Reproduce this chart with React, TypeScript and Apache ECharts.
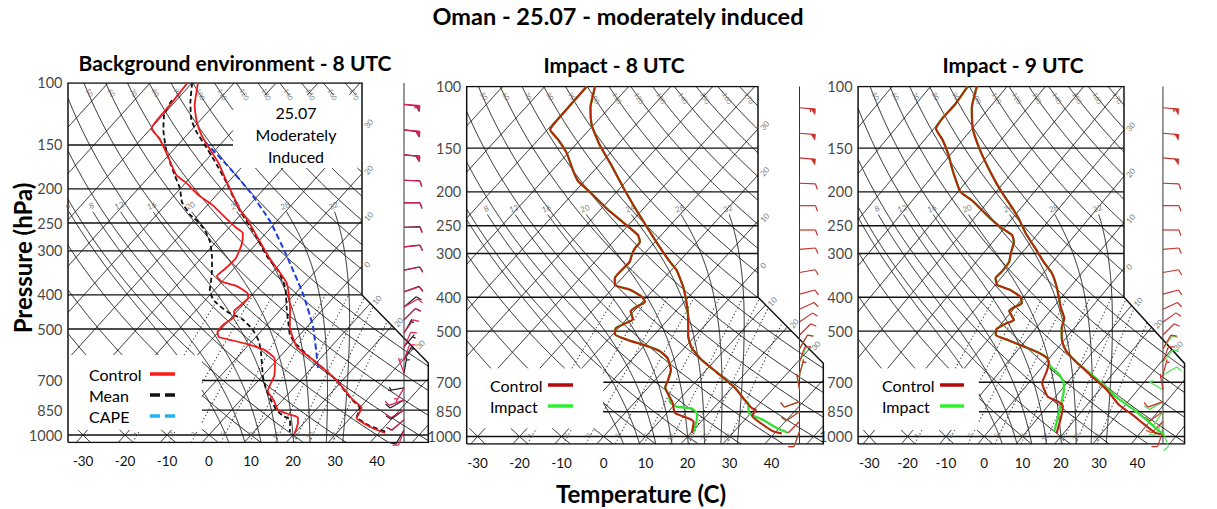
import React, { useEffect, useRef } from "react";
import * as echarts from "echarts";

// ---------------- data ----------------
const pressureTicks = [100, 150, 200, 250, 300, 400, 500, 700, 850, 1000];
const pressureLines = [150, 200, 250, 300, 400, 500, 700, 850, 1000];
const tempTicks = [-30, -20, -10, 0, 10, 20, 30, 40];

// Panel 1 - Background environment - 8 UTC
const envCtlTempP = [100, 116, 129, 141, 152, 168, 191, 209, 228, 248, 271, 316, 370, 441, 493, 562, 612, 698, 795, 838, 895, 947, 987];
const envCtlTemp = [-78.6, -74.5, -70.5, -66.4, -62.3, -56.7, -50.4, -45.9, -41.5, -36.6, -31.8, -23.5, -14.3, -7.7, -4.1, 1.9, 8.6, 18.5, 26.7, 30.5, 31.5, 36.5, 41.5];
const envCtlDewP = [100, 116, 135, 144, 162, 183, 191, 208, 222, 242, 257, 267, 287, 314, 336, 354, 367, 377, 398, 408, 430, 444, 462, 484, 510, 527, 539, 555, 574, 604, 637, 680, 750, 801, 849, 877, 892, 925, 987];
const envCtlDew = [-81.1, -80.5, -79.8, -75.7, -69.8, -63.8, -60.3, -54.4, -48.9, -42.8, -38.5, -35.5, -33.4, -31.8, -32.0, -32.4, -30.0, -25.7, -21.1, -20.3, -20.5, -20.8, -19.5, -20.4, -20.2, -18.8, -14.7, -9.7, -5.0, -1.1, 0.8, 2.8, 4.5, 8.2, 11.0, 15.2, 17.4, 18.6, 20.0];
const envMeanTempP = [100, 114, 127, 138, 150, 166, 192, 230, 270, 314, 340, 382, 436, 487, 520, 548, 601, 689, 795, 838, 889, 943, 981];
const envMeanTemp = [-80.0, -76.1, -72.3, -68.3, -63.6, -58.0, -50.3, -41.2, -32.2, -24.2, -19.2, -13.6, -8.9, -4.8, -2.3, 0.6, 7.2, 17.5, 26.5, 30.1, 31.3, 36.4, 41.7];
const envMeanDewP = [112, 123, 136, 157, 183, 199, 218, 237, 248, 262, 283, 314, 351, 390, 416, 448, 468, 500, 541, 585, 680, 736, 785, 849, 883, 904, 981];
const envMeanDew = [-81.1, -79.8, -76.7, -71.2, -64.2, -60.2, -56.7, -52.0, -48.6, -45.2, -41.4, -37.5, -33.9, -30.9, -27.7, -22.0, -17.2, -12.6, -8.4, -5.3, 0.1, 3.4, 6.5, 10.7, 13.5, 16.0, 18.6];
const envCapeP = [147, 175, 204, 248, 309, 398, 495, 645];
const envCape = [-64.2, -52.5, -42.7, -31.4, -20.3, -8.0, 1.6, 11.5];

// Panel 2 - Impact - 8 UTC
const imp8CtlTempP = [100, 115, 129, 147, 168, 195, 218, 243, 278, 315, 335, 374, 430, 471, 516, 559, 605, 659, 727, 787, 829, 840, 874, 921, 965, 981];
const imp8CtlTemp = [-78.0, -74.5, -70.4, -64.2, -57.0, -49.2, -43.2, -37.2, -29.7, -22.5, -18.7, -13.5, -7.9, -4.7, -1.7, 1.8, 6.8, 13.4, 20.8, 25.7, 29.1, 30.5, 30.9, 35.0, 39.1, 41.8];
const imp8ImpTempP = [100, 115, 129, 147, 168, 195, 218, 243, 278, 315, 335, 374, 430, 471, 516, 559, 605, 659, 727, 787, 805, 857, 897, 946, 974];
const imp8ImpTemp = [-78.0, -74.5, -70.4, -64.2, -57.0, -49.2, -43.2, -37.2, -29.7, -22.5, -18.7, -13.5, -7.9, -4.7, -1.7, 1.8, 6.8, 13.4, 20.8, 25.7, 27.3, 29.5, 34.4, 39.4, 42.8];
const imp8CtlDewP = [100, 119, 133, 142, 155, 175, 187, 200, 223, 243, 254, 266, 278, 290, 303, 317, 331, 353, 369, 381, 399, 412, 427, 438, 462, 477, 490, 510, 530, 551, 570, 597, 646, 690, 724, 766, 797, 857, 887, 909, 979];
const imp8CtlDew = [-80.0, -79.8, -79.3, -75.2, -70.3, -64.7, -61.3, -56.4, -48.8, -42.3, -38.9, -35.5, -33.6, -33.4, -32.7, -31.7, -31.8, -31.7, -30.2, -25.5, -21.2, -19.4, -20.4, -20.8, -18.5, -19.6, -20.6, -19.5, -15.2, -9.4, -5.2, -1.8, 1.6, 3.1, 4.0, 6.8, 8.9, 11.9, 16.2, 18.3, 20.3];
const imp8ImpDewP = [100, 119, 133, 142, 155, 175, 187, 200, 223, 243, 254, 266, 278, 290, 303, 317, 331, 353, 369, 381, 399, 412, 427, 438, 462, 477, 490, 510, 530, 551, 570, 597, 646, 690, 724, 766, 800, 822, 832, 857, 885, 974];
const imp8ImpDew = [-80.0, -79.8, -79.3, -75.2, -70.3, -64.7, -61.3, -56.4, -48.8, -42.3, -38.9, -35.5, -33.6, -33.4, -32.7, -31.7, -31.8, -31.7, -30.2, -25.5, -21.2, -19.4, -20.4, -20.8, -18.5, -19.6, -20.6, -19.5, -15.2, -9.4, -5.2, -1.8, 1.6, 3.1, 4.0, 6.8, 8.5, 10.9, 15.0, 17.1, 18.2, 20.5];

// Panel 3 - Impact - 9 UTC
const imp9CtlTempP = [100, 115, 132, 150, 171, 191, 204, 223, 238, 263, 290, 317, 342, 376, 430, 459, 490, 516, 542, 570, 613, 672, 736, 813, 865, 917, 977, 984];
const imp9CtlTemp = [-77.9, -74.6, -69.8, -63.9, -57.2, -51.2, -47.4, -42.1, -38.4, -33.2, -27.5, -22.4, -17.7, -13.3, -7.8, -4.8, -3.3, -1.6, 0.3, 2.9, 7.9, 14.9, 21.9, 28.4, 33.8, 38.6, 43.9, 45.6];
const imp9ImpTempP = [100, 115, 132, 150, 171, 191, 204, 223, 238, 263, 290, 317, 342, 376, 430, 459, 490, 516, 542, 570, 613, 654, 713, 776, 840, 897, 961, 984];
const imp9ImpTemp = [-77.9, -74.6, -69.8, -63.9, -57.2, -51.2, -47.4, -42.1, -38.4, -33.2, -27.5, -22.4, -17.7, -13.3, -7.8, -4.8, -3.3, -1.6, 0.3, 2.9, 7.9, 13.2, 20.0, 26.4, 33.4, 38.8, 44.2, 46.4];
const imp9CtlDewP = [100, 113, 123, 132, 142, 157, 171, 187, 200, 213, 233, 252, 266, 278, 300, 317, 338, 353, 369, 381, 399, 416, 427, 438, 465, 475, 493, 513, 530, 554, 575, 597, 613, 652, 703, 770, 795, 818, 878, 979];
const imp9CtlDew = [-80.3, -79.7, -80.0, -79.4, -75.3, -70.4, -66.7, -62.6, -59.3, -53.9, -47.4, -41.3, -36.4, -34.5, -32.8, -31.4, -31.2, -31.4, -29.5, -25.1, -20.9, -19.1, -20.2, -20.7, -17.5, -18.8, -20.1, -19.0, -14.8, -9.0, -4.2, -0.6, 0.7, 2.2, 3.5, 8.0, 11.7, 13.9, 15.8, 18.2];
const imp9ImpDewP = [100, 113, 123, 132, 142, 157, 171, 187, 200, 213, 233, 252, 266, 278, 300, 317, 338, 353, 369, 381, 399, 416, 427, 438, 465, 475, 493, 513, 530, 554, 575, 597, 627, 661, 699, 741, 804, 878, 968];
const imp9ImpDew = [-80.3, -79.7, -80.0, -79.4, -75.3, -70.4, -66.7, -62.6, -59.3, -53.9, -47.4, -41.3, -36.4, -34.5, -32.8, -31.4, -31.2, -31.4, -29.5, -25.1, -20.9, -19.1, -20.2, -20.7, -17.5, -18.8, -20.1, -19.0, -14.8, -9.0, -4.2, -0.6, 1.7, 5.7, 8.9, 10.9, 12.9, 15.0, 17.2];

// Wind barbs (direction in degrees, speed in knots)
const barbLevels = [115, 136, 160, 189, 219, 257, 292, 340, 392, 433, 471, 513, 562, 612, 667, 735, 795, 849, 906, 968];
const envCtlBarbDir = [95, 95, 95, 92, 90, 90, 85, 80, 72, 60, 45, 35, 25, 20, 340, 210, 250, 240, 230, 200];
const envCtlBarbSpd = [55, 50, 50, 10, 10, 10, 10, 10, 10, 10, 10, 10, 10, 10, 5, 5, 10, 10, 10, 10];
const envMeanBarbDir = [97, 97, 96, 92, 90, 88, 84, 78, 70, 50, 45, 30, 40, 30, 10, 260, 240, 235, 230, 210];
const envMeanBarbSpd = [50, 50, 50, 10, 10, 10, 10, 10, 10, 10, 10, 5, 5, 5, 5, 5, 10, 10, 10, 10];
const impCtlBarbDir = [95, 95, 95, 92, 90, 90, 85, 80, 75, 65, 55, 45, 30, 20, 15, 350, 250, 235, 225, 200];
const impCtlBarbSpd = [55, 50, 50, 10, 10, 10, 10, 10, 10, 10, 10, 10, 10, 10, 5, 5, 10, 10, 10, 10];
const impactBarbLevels = [562, 612, 667, 735, 795, 849, 906, 968];
const imp8ImpBarbDir = [30, 25, 15, 350, 250, 235, 225, 200];
const imp8ImpBarbSpd = [10, 10, 5, 5, 10, 10, 10, 10];
const imp9ImpBarbDir = [35, 40, 60, 300, 240, 215, 210, 160];
const imp9ImpBarbSpd = [10, 10, 10, 5, 10, 10, 10, 10];

// Thermodynamic reference lines
const isothermValues = [-100, -90, -80, -70, -60, -50, -40, -30, -20, -10, 0, 10, 20, 30, 40, 50];
const dryAdiabatValues = [-40, -30, -20, -10, 0, 10, 20, 30, 40, 50, 60, 70, 80, 90, 100, 110, 120, 130, 140, 150, 160, 170];
const moistAdiabatValues = [4, 8, 12, 16, 20, 24, 28, 32];
const mixingRatioValues = [1, 2, 3, 5, 8, 12, 16, 20, 28];

// ---------------- layout ----------------
const K = 33; // skew (°C per unit ln p)
const PX_DEG = 4.2;
const X_MIN = -40;
const X_MAX = 60;
const FONT = "Lato";

const panelGeoms = [
  { x0: 209, y1000: 435, pxLn: 152.9, frameL: 68, frameR1: 362, frameR2: 428.3, diagBotY: 363, staffX: 404,
    boxes: [[233, 95, 366, 168], [55, 355, 202, 430]] },
  { x0: 603.6, y1000: 436.5, pxLn: 152, frameL: 466.7, frameR1: 758, frameR2: 823.3, diagBotY: 363.3, staffX: 799.5,
    boxes: [[455, 368.3, 603.3, 428.3]] },
  { x0: 999, y1000: 436.5, pxLn: 152, frameL: 860.7, frameR1: 1152.3, frameR2: 1218.7, diagBotY: 363.4, staffX: 1195,
    boxes: [[850, 368.3, 993.3, 430]] },
];

const skew = (ps: number[], ts: number[]) => ps.map((p, i) => [ts[i] + K * Math.log(1000 / p), p]);

function satMix(Tc: number, p: number) {
  const es = 6.112 * Math.exp((17.67 * Tc) / (Tc + 243.5));
  return (0.622 * es) / (p - es);
}
function moistDTdv(Tk: number, v: number) {
  const p = 1000 * Math.exp(-v);
  const rs = satMix(Tk - 273.15, p);
  const Rd = 287.04, cp = 1005.7, Lv = 2.501e6, eps = 0.622;
  const num = Rd * Tk + Lv * rs;
  const den = cp + (Lv * Lv * rs * eps) / (Rd * Tk * Tk);
  return -num / den;
}

function buildPanel(g: any) {
  const vTop = Math.log(10);
  const vBot = Math.log(1000 / 1050);
  const yTop = g.y1000 - g.pxLn * vTop;
  const yBot = g.y1000 - g.pxLn * vBot;
  const y400 = g.y1000 - g.pxLn * Math.log(2.5);
  const toPx = (xs: number, v: number) => [g.x0 + PX_DEG * xs, g.y1000 - g.pxLn * v];
  const xsOf = (X: number) => (X - g.x0) / PX_DEG;
  const pOfY = (Y: number) => 1000 * Math.exp(-(g.y1000 - Y) / g.pxLn);
  const rightAt = (Y: number) =>
    Y <= y400 ? g.frameR1 : Y >= g.diagBotY ? g.frameR2 : g.frameR1 + ((Y - y400) * (g.frameR2 - g.frameR1)) / (g.diagBotY - y400);
  const inFrame = (pt: number[]) => {
    const [X, Y] = toPx(pt[0], pt[1]);
    if (X < g.frameL - 0.01 || Y < yTop - 0.01 || Y > yBot + 0.01) return false;
    return X <= rightAt(Y) + 0.01;
  };
  const inside = (pt: number[]) => {
    if (!inFrame(pt)) return false;
    const [X, Y] = toPx(pt[0], pt[1]);
    for (const b of g.boxes) if (X > b[0] && X < b[2] && Y > b[1] && Y < b[3]) return false;
    return true;
  };
  const clip = (pts: number[][], test: (p: number[]) => boolean) => {
    const edge = (a: number[], b: number[]) => {
      let lo = a, hi = b;
      for (let k = 0; k < 22; k++) {
        const m = [(lo[0] + hi[0]) / 2, (lo[1] + hi[1]) / 2];
        if (test(m)) lo = m; else hi = m;
      }
      return lo;
    };
    const segs: number[][][] = [];
    let cur: number[][] | null = null;
    for (let i = 0; i < pts.length; i++) {
      const q = pts[i];
      const qi = test(q);
      if (i === 0) { if (qi) cur = [q]; continue; }
      const pr = pts[i - 1];
      const pi = test(pr);
      if (pi && qi) cur!.push(q);
      else if (pi && !qi) { cur!.push(edge(pr, q)); segs.push(cur!); cur = null; }
      else if (!pi && qi) cur = [edge(q, pr), q];
    }
    if (cur) segs.push(cur);
    return segs.filter((s) => s.length > 1);
  };
  const toData = (segs: number[][][]) => segs.map((s) => ({ coords: s.map(([xs, v]) => [xs, 1000 * Math.exp(-v)]) }));
  const step = 0.005;
  const vRange = (a: number, b: number) => { const out: number[] = []; for (let v = a; v <= b + 1e-9; v += step) out.push(v); return out; };

  const isoSegs: any[] = [];
  const isoLabels: any[] = [];
  isothermValues.forEach((T) => {
    const pts = vRange(vBot, vTop).map((v) => [T + K * v, v]);
    isoSegs.push(...toData(clip(pts, inside)));
    if (T >= -30 && T <= 30) {
      const fs = clip(pts, inFrame);
      if (fs.length) {
        const last = fs[fs.length - 1][fs[fs.length - 1].length - 1];
        isoLabels.push({ value: [last[0], 1000 * Math.exp(-last[1])], name: String(Math.abs(T)) });
      }
    }
  });
  const dryAll: number[][][] = [];
  const dryLabels: any[] = [];
  dryAdiabatValues.forEach((th) => {
    const pts = vRange(vBot, vTop).map((v) => [(th + 273.15) * Math.exp(-0.2857 * v) - 273.15 + K * v, v]);
    dryAll.push(...clip(pts, inside));
    const vt = Math.log(1000 / 104);
    const xt = (th + 273.15) * Math.exp(-0.2857 * vt) - 273.15 + K * vt;
    if (inFrame([xt, vt]) && inFrame([xt + 1.5, vt])) dryLabels.push({ value: [xt, 104], name: String(th) });
  });
  const moistAll: number[][][] = [];
  const moistLabels: any[] = [];
  const vMoistTop = Math.log(1000 / 232);
  moistAdiabatValues.forEach((tw) => {
    const up: number[][] = [];
    let T = tw + 273.15;
    for (let v = 0; v <= vMoistTop + 1e-9; v += step) {
      up.push([T - 273.15 + K * v, v]);
      const k1 = moistDTdv(T, v);
      const k2 = moistDTdv(T + step * k1, v + step);
      T += (step * (k1 + k2)) / 2;
    }
    const down: number[][] = [];
    T = tw + 273.15;
    for (let v = 0; v >= vBot - 1e-9; v -= step) {
      const k1 = moistDTdv(T, v);
      const k2 = moistDTdv(T - step * k1, v - step);
      T -= (step * (k1 + k2)) / 2;
      down.push([T - 273.15 + K * (v - step), v - step]);
    }
    const pts = down.reverse().concat(up);
    moistAll.push(...clip(pts, inside));
    const top = up[up.length - 1];
    if (inside(top)) moistLabels.push({ value: [top[0], 1000 * Math.exp(-top[1])], name: String(tw) });
  });
  const mixAll: number[][][] = [];
  const mixLabels: any[] = [];
  const tdOf = (w: number, v: number) => {
    const p = 1000 * Math.exp(-v);
    const e = (w * p) / (622 + w);
    const l = Math.log(e / 6.112);
    return (243.5 * l) / (17.67 - l);
  };
  mixingRatioValues.forEach((w) => {
    const pts = vRange(vBot, Math.log(2.5)).map((v) => [tdOf(w, v) + K * v, v]);
    mixAll.push(...clip(pts, inside));
    const vl = 0.02;
    const pl = [tdOf(w, vl) + K * vl, vl];
    if (inside(pl)) mixLabels.push({ value: [pl[0], 1000 * Math.exp(-vl)], name: String(w) });
  });
  const presSegs: any[] = [];
  pressureLines.forEach((p) => {
    const v = Math.log(1000 / p);
    const pts: number[][] = [];
    for (let x = X_MIN; x <= X_MAX + 1e-9; x += 0.1) pts.push([x, v]);
    presSegs.push(...toData(clip(pts, inside)));
  });
  const L = xsOf(g.frameL), R1 = xsOf(g.frameR1), R2 = xsOf(g.frameR2);
  const frame = [[L, 1050], [L, 100], [R1, 100], [R1, 400], [R2, pOfY(g.diagBotY)], [R2, 1050], [L, 1050]];
  const staff = xsOf(g.staffX);
  return {
    L, staff,
    iso: isoSegs, dry: toData(dryAll), moist: toData(moistAll), mix: toData(mixAll), pres: presSegs, frame,
    isoLabels, dryLabels, moistLabels, mixLabels,
  };
}

function barbRenderer(color: string, width: number) {
  return (params: any, api: any) => {
    const c = api.coord([api.value(0), api.value(1)]);
    const dir = (api.value(2) * Math.PI) / 180;
    let spd = api.value(3);
    const sx = Math.sin(dir), sy = -Math.cos(dir);
    const nx = -sy, ny = sx;
    const len = 16;
    const ex = c[0] + sx * len, ey = c[1] + sy * len;
    const fx = nx * 0.94 + sx * 0.34, fy = ny * 0.94 + sy * 0.34;
    const ch: any[] = [{ type: "line", shape: { x1: c[0], y1: c[1], x2: ex, y2: ey }, style: { stroke: color, lineWidth: width } }];
    let pos = 0;
    while (spd >= 47.5) {
      const ax = ex - sx * pos, ay = ey - sy * pos;
      const bx = ex - sx * (pos + 4.5), by = ey - sy * (pos + 4.5);
      ch.push({ type: "polygon", shape: { points: [[ax, ay], [bx, by], [ax + nx * 5.5, ay + ny * 5.5]] }, style: { fill: color, stroke: color, lineWidth: 0.6 } });
      pos += 5.5;
      spd -= 50;
    }
    while (spd >= 7.5) {
      const ax = ex - sx * pos, ay = ey - sy * pos;
      ch.push({ type: "line", shape: { x1: ax, y1: ay, x2: ax + fx * 6, y2: ay + fy * 6 }, style: { stroke: color, lineWidth: width } });
      pos += 3;
      spd -= 10;
    }
    if (spd >= 2.5) {
      if (pos === 0) pos = 3;
      const ax = ex - sx * pos, ay = ey - sy * pos;
      ch.push({ type: "line", shape: { x1: ax, y1: ay, x2: ax + fx * 3.5, y2: ay + fy * 3.5 }, style: { stroke: color, lineWidth: width } });
    }
    return { type: "group", children: ch };
  };
}

function buildOption() {
  const series: any[] = [];
  const grids: any[] = [];
  const xAxes: any[] = [];
  const yAxes: any[] = [];
  panelGeoms.forEach((g, i) => {
    const top = g.y1000 - g.pxLn * Math.log(10);
    grids.push({ left: g.x0 + X_MIN * PX_DEG, top, width: (X_MAX - X_MIN) * PX_DEG, height: g.pxLn * Math.log(10.5) });
    xAxes.push({
      type: "value", gridIndex: i, min: X_MIN, max: X_MAX, interval: 10,
      axisLine: { show: false }, axisTick: { show: false }, splitLine: { show: false },
      axisLabel: { formatter: (v: number) => (tempTicks.indexOf(v) >= 0 ? String(v) : ""), fontSize: 13.5, color: "#111", margin: 12, fontFamily: FONT },
    });
    yAxes.push({ type: "log", logBase: 10, gridIndex: i, min: 100, max: 1050, inverse: true, show: false });

    const pb = buildPanel(g);
    const ax = { xAxisIndex: i, yAxisIndex: i, silent: true };
    const linesS = (data: any[], color: string, width: number, type: any, z: number) => ({
      type: "lines", coordinateSystem: "cartesian2d", ...ax, polyline: true, data,
      lineStyle: { color, width, type, opacity: 1 }, z, animation: false,
    });
    series.push(linesS(pb.mix, "#3a3a3a", 1.1, [1.2, 2.4], 2));
    series.push(linesS(pb.iso, "#141414", 0.95, "solid", 2));
    series.push(linesS(pb.dry, "#141414", 0.95, "solid", 2));
    series.push(linesS(pb.moist, "#202020", 1, "solid", 2));
    series.push(linesS(pb.pres, "#111", 1.4, "solid", 3));
    series.push(linesS([{ coords: pb.frame }], "#111", 1.5, "solid", 3));
    series.push(linesS([{ coords: [[pb.staff, 100], [pb.staff, 1050]] }], "#333", 1, "solid", 3));

    const labelS = (data: any[], label: any, z = 4) => ({
      type: "scatter", ...ax, symbolSize: 1, itemStyle: { color: "rgba(0,0,0,0)" }, data,
      label: { show: true, formatter: "{b}", fontFamily: FONT, ...label }, z,
    });
    series.push(labelS(pressureTicks.map((p) => ({ value: [pb.L, p], name: String(p) })), { position: "left", distance: 5, fontSize: 14.5, color: "#111" }));
    series.push(labelS(pb.isoLabels, { position: "right", distance: 3, fontSize: 8, color: "#555", rotate: 48 }));
    series.push(labelS(pb.dryLabels, { position: "right", distance: 1, fontSize: 7, color: "#666", rotate: -62 }));
    series.push(labelS(pb.moistLabels, { position: "top", distance: 2, fontSize: 8, color: "#555", rotate: 20 }));
    series.push(labelS(pb.mixLabels, { position: "left", distance: 2, fontSize: 7, color: "#666", rotate: 60 }));

    const barbData = (levels: number[], dirs: number[], spds: number[]) => levels.map((p, k) => [pb.staff, p, dirs[k], spds[k]]);
    const barbS = (data: any[], color: string, z: number) => ({
      type: "custom", ...ax, data, encode: { x: 0, y: 1 }, renderItem: barbRenderer(color, 1.2), z, clip: false,
    });
    const line = (data: any[], color: string, width: number, type: any, z: number) => ({
      type: "line", ...ax, data, symbol: "none", showSymbol: false, smooth: 0.15,
      lineStyle: { color, width, type }, z,
    });
    if (i === 0) {
      series.push(barbS(barbData(barbLevels, envMeanBarbDir, envMeanBarbSpd), "#222", 5));
      series.push(barbS(barbData(barbLevels, envCtlBarbDir, envCtlBarbSpd), "#dc1f55", 5));
      series.push(line(skew(envCapeP, envCape), "#1d3ddb", 2, [6, 3], 6));
      series.push(line(skew(envMeanTempP, envMeanTemp), "#111", 1.8, [5, 3], 6));
      series.push(line(skew(envMeanDewP, envMeanDew), "#111", 1.8, [5, 3], 6));
      series.push(line(skew(envCtlTempP, envCtlTemp), "#f01818", 1.8, "solid", 7));
      series.push(line(skew(envCtlDewP, envCtlDew), "#f01818", 1.8, "solid", 7));
    } else {
      const ctlT = i === 1 ? skew(imp8CtlTempP, imp8CtlTemp) : skew(imp9CtlTempP, imp9CtlTemp);
      const ctlD = i === 1 ? skew(imp8CtlDewP, imp8CtlDew) : skew(imp9CtlDewP, imp9CtlDew);
      const impT = i === 1 ? skew(imp8ImpTempP, imp8ImpTemp) : skew(imp9ImpTempP, imp9ImpTemp);
      const impD = i === 1 ? skew(imp8ImpDewP, imp8ImpDew) : skew(imp9ImpDewP, imp9ImpDew);
      const ibd = i === 1 ? imp8ImpBarbDir : imp9ImpBarbDir;
      const ibs = i === 1 ? imp8ImpBarbSpd : imp9ImpBarbSpd;
      series.push(barbS(barbData(impactBarbLevels, ibd, ibs), "#4ee04e", 5));
      series.push(barbS(barbData(barbLevels, impCtlBarbDir, impCtlBarbSpd), "#c8302c", 5));
      series.push(line(impT, "#33e033", 2.3, "solid", 6));
      series.push(line(impD, "#33e033", 2.3, "solid", 6));
      series.push(line(ctlT, "#b5260c", 2.1, "solid", 7));
      series.push(line(ctlD, "#b5260c", 2.1, "solid", 7));
    }
  });

  const txt = (x: number, y: number, text: string, size: number, weight = "normal", align = "center", rotation = 0) => ({
    type: "text", x, y, rotation, z: 100,
    style: { text, fontSize: size, fontWeight: weight, fontFamily: FONT, fill: "#000", textAlign: align, textVerticalAlign: "middle", verticalAlign: "middle" },
  });
  const seg = (x1: number, x2: number, y: number, color: string, dash?: number[]) => ({
    type: "line", z: 100, shape: { x1, y1: y, x2, y2: y }, style: { stroke: color, lineWidth: 3.5, lineDash: dash },
  });
  const graphic: any[] = [
    txt(618, 16, "Oman - 25.07 - moderately induced", 23.5, "bold"),
    txt(235, 62, "Background environment - 8 UTC", 21, "bold"),
    txt(614, 64, "Impact - 8 UTC", 21, "bold"),
    txt(1013, 64, "Impact - 9 UTC", 21, "bold"),
    txt(641, 493, "Temperature (C)", 24, "bold"),
    txt(22, 258, "Pressure (hPa)", 24, "bold", "center", Math.PI / 2),
    txt(296, 112, "25.07", 16),
    txt(296, 134, "Moderately", 16),
    txt(296, 156, "Induced", 16),
    txt(89, 374, "Control", 16, "normal", "left"),
    txt(89, 395, "Mean", 16, "normal", "left"),
    txt(89, 416, "CAPE", 16, "normal", "left"),
    seg(150, 175, 374, "#ff1a1a"),
    seg(150, 175, 395, "#111", [10, 5]),
    seg(150, 175, 416, "#22b4ea", [10, 5]),
    txt(490, 385, "Control", 16, "normal", "left"),
    txt(490, 406, "Impact", 16, "normal", "left"),
    seg(548, 573, 385, "#b40a0a"),
    seg(548, 573, 406, "#2ef02e"),
    txt(882, 385, "Control", 16, "normal", "left"),
    txt(882, 406, "Impact", 16, "normal", "left"),
    seg(940, 964, 385, "#b40a0a"),
    seg(940, 964, 406, "#2ef02e"),
  ];

  return {
    animation: false,
    backgroundColor: "#ffffff",
    textStyle: { fontFamily: FONT },
    grid: grids,
    xAxis: xAxes,
    yAxis: yAxes,
    series,
    graphic,
  };
}

export default function App() {
  const ref = useRef<HTMLDivElement>(null);
  useEffect(() => {
    const chart = echarts.init(ref.current as HTMLDivElement, undefined, { renderer: "svg" });
    chart.setOption(buildOption() as any);
    return () => chart.dispose();
  }, []);
  return <div ref={ref} style={{ position: "absolute", left: 0, top: 0, width: 1217, height: 509, background: "#fff" }} />;
}
